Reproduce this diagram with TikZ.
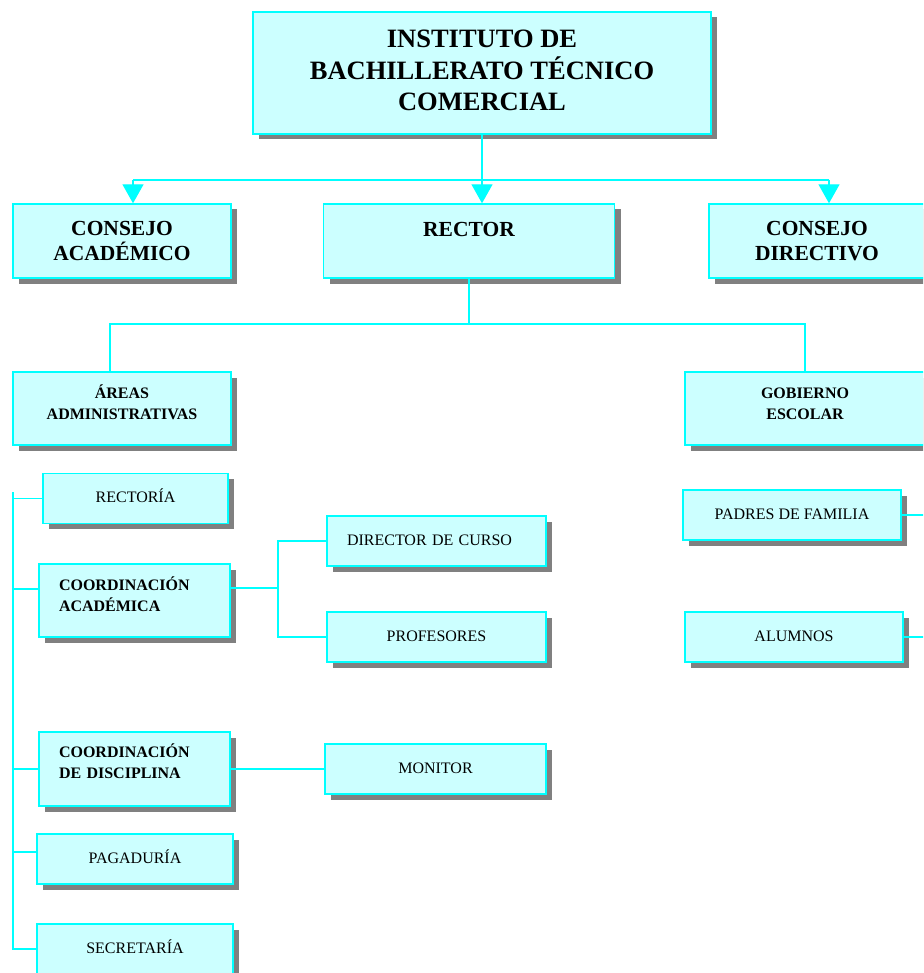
\documentclass[tikz,border=0pt]{standalone}
\usepackage{fontspec}
\setmainfont{Liberation Serif}
\usetikzlibrary{shadows,arrows.meta}

\definecolor{orgline}{RGB}{0,255,255}
\definecolor{orgfill}{RGB}{204,255,255}
\definecolor{orgshadow}{RGB}{128,128,128}

% two lines, lifted a little inside their box
\newcommand{\liftc}[3]{\raisebox{#1}[\height][\depth]{\begin{tabular}{@{}c@{}}#2\\#3\end{tabular}}}
\newcommand{\liftl}[3]{\raisebox{#1}[\height][\depth]{\begin{tabular}{@{}l@{}}#2\\#3\end{tabular}}}

\begin{document}
\begin{tikzpicture}[x=1pt, y=-1pt,
    box/.style={rectangle, draw=orgline, fill=orgfill, line width=1.4pt, inner sep=0pt, align=center,
        general shadow={fill=orgshadow, shadow xshift=6pt, shadow yshift=-5.5pt}},
    topbox/.style={box, minimum width=458pt, minimum height=122pt, font=\fontsize{26.5pt}{30.5pt}\selectfont\bfseries},
    bigbox/.style={box, minimum height=74pt, font=\fontsize{21.5pt}{25pt}\selectfont\bfseries},
    midbox/.style={box, minimum height=73pt, font=\fontsize{16pt}{21.6pt}\selectfont\bfseries},
    unitbox/.style={box, minimum height=50pt, text height=12pt, text depth=4pt, font=\fontsize{16pt}{19pt}\selectfont},
    leftbox/.style={align=left, text width=#1, inner xsep=20pt},
    link/.style={draw=orgline, line width=1.4pt},
    arrow/.style={link, -{Triangle[width=21pt, length=19pt]}}
]
\useasboundingbox (0,0) rectangle (923,973);
\clip (0,0) rectangle (923,973);

% Top
\node[topbox] (inst) at (482,73) {\begin{tabular}{@{}c@{}}INSTITUTO DE\\BACHILLERATO TÉCNICO\\COMERCIAL\end{tabular}};

% First level
\node[bigbox, minimum width=218pt] (acad) at (122,241) {CONSEJO\\ACADÉMICO};
\node[bigbox, minimum width=291pt, text height=15pt, text depth=23pt] (rector) at (469,241) {RECTOR};
\node[bigbox, minimum width=216pt] (cdir) at (817,241) {CONSEJO\\DIRECTIVO};

% Second level
\node[midbox, minimum width=218pt] (areas) at (122,408.5) {\liftc{4pt}{ÁREAS}{ADMINISTRATIVAS}};
\node[midbox, minimum width=240pt] (gob) at (805,408.5) {\liftc{4pt}{GOBIERNO}{ESCOLAR}};

% Administrative areas
\node[unitbox, minimum width=185pt] (rectoria) at (135.5,498.5) {RECTORÍA};
\node[midbox, leftbox=151pt, minimum width=191pt] (coacad) at (134.5,600.5) {\liftl{4pt}{COORDINACIÓN}{ACADÉMICA}};
\node[midbox, leftbox=151pt, minimum width=191pt, minimum height=74pt] (codisc) at (134.5,769) {\liftl{5.5pt}{COORDINACIÓN}{DE DISCIPLINA}};
\node[unitbox, minimum width=196pt] (pagad) at (135,859) {PAGADURÍA};
\node[unitbox, minimum width=196pt] (secre) at (135,949) {SECRETARÍA};

\node[unitbox, leftbox=179pt, minimum width=219pt] (director) at (436.5,541) {DIRECTOR DE CURSO};
\node[unitbox, minimum width=219pt] (profes) at (436.5,637) {PROFESORES};
\node[unitbox, minimum width=221pt] (monitor) at (435.5,769) {MONITOR};

% School government
\node[unitbox, minimum width=218pt] (padres) at (792,515) {PADRES DE FAMILIA};
\node[unitbox, minimum width=218pt] (alumnos) at (794,637) {ALUMNOS};

% Top connectors
\coordinate (barL) at (133,180);
\coordinate (barR) at (829,180);
\draw[link] (inst.south) -- (inst.south |- barL);
\draw[link] (barL) -- (barR);
\draw[arrow] (barL) -- (barL |- acad.north);
\draw[arrow] (inst.south |- barL) -- (inst.south |- rector.north);
\draw[arrow] (barR) -- (barR |- cdir.north);

% Rector connectors
\coordinate (split) at (469,324);
\draw[link] (rector.south) -- (rector.south |- split);
\draw[link] ([xshift=-12pt]areas.north) |- (split) -| (gob.north);

% Left trunk
\coordinate (trunkT) at (13,492);
\draw[link] (trunkT) -- (trunkT |- secre.west) -- (secre.west);
\draw[link] (rectoria.west) -| (trunkT);
\draw[link] ([yshift=11.5pt]coacad.west) -| (trunkT);
\draw[link] (codisc.west) -| (trunkT);
\draw[link] ([yshift=7pt]pagad.west) -| (trunkT);

% Academic coordination
\coordinate (fork) at (278,588);
\draw[link] ([yshift=12.5pt]coacad.east) -- (fork);
\draw[link] (director.west) -| (fork) |- (profes.west);
\draw[link] (codisc.east) -- (monitor.west);

% Right side
\coordinate (rtrunk) at (940,0);
\draw[link] (padres.east) -- (padres.east -| rtrunk);
\draw[link] (alumnos.east) -- (alumnos.east -| rtrunk);
\end{tikzpicture}
\end{document}
